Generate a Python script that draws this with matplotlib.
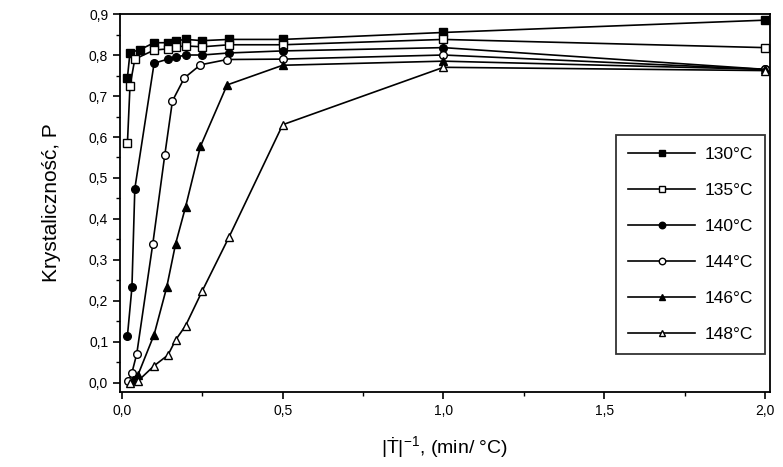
import matplotlib
matplotlib.use("Agg")
import matplotlib.pyplot as plt
from matplotlib.ticker import MultipleLocator, FuncFormatter

plt.rcParams['font.family'] = ['Liberation Sans', 'DejaVu Sans']
plt.rcParams['mathtext.default'] = 'regular'

labels = ["130°C", "135°C", "140°C", "144°C", "146°C", "148°C"]

x130 = [0.017, 0.025, 0.056, 0.1, 0.143, 0.167, 0.2, 0.25, 0.333, 0.5, 1.0, 2.0]
y130 = [0.745, 0.806, 0.813, 0.83, 0.83, 0.835, 0.838, 0.835, 0.838, 0.838, 0.855, 0.885]

x135 = [0.017, 0.025, 0.04, 0.1, 0.143, 0.167, 0.2, 0.25, 0.333, 0.5, 1.0, 2.0]
y135 = [0.585, 0.725, 0.79, 0.812, 0.815, 0.82, 0.822, 0.82, 0.825, 0.825, 0.838, 0.818]

x140 = [0.017, 0.031, 0.04, 0.1, 0.143, 0.167, 0.2, 0.25, 0.333, 0.5, 1.0, 2.0]
y140 = [0.115, 0.233, 0.474, 0.78, 0.79, 0.795, 0.80, 0.80, 0.805, 0.81, 0.818, 0.765]

x144 = [0.02, 0.031, 0.046, 0.096, 0.133, 0.157, 0.194, 0.244, 0.327, 0.5, 1.0, 2.0]
y144 = [0.005, 0.025, 0.071, 0.34, 0.555, 0.688, 0.744, 0.776, 0.789, 0.79, 0.80, 0.765]

x146 = [0.033, 0.05, 0.1, 0.139, 0.167, 0.198, 0.244, 0.327, 0.5, 1.0, 2.0]
y146 = [0.008, 0.02, 0.118, 0.233, 0.34, 0.43, 0.577, 0.727, 0.775, 0.785, 0.765]

x148 = [0.025, 0.05, 0.1, 0.143, 0.167, 0.198, 0.25, 0.333, 0.5, 1.0, 2.0]
y148 = [0.0, 0.005, 0.042, 0.068, 0.105, 0.14, 0.225, 0.356, 0.63, 0.77, 0.762]

series = [(x130, y130, 's', 'black'), (x135, y135, 's', 'white'),
          (x140, y140, 'o', 'black'), (x144, y144, 'o', 'white'),
          (x146, y146, '^', 'black'), (x148, y148, '^', 'white')]

fig = plt.figure(figsize=(7.83, 4.67), dpi=100)
ax = fig.add_axes([0.1533, 0.1606, 0.8301, 0.8094])

for (xs, ys, m, fc), lab in zip(series, labels):
    ax.plot(xs, ys, color='black', lw=1.2, marker=m, markersize=5.5,
            markerfacecolor=fc, markeredgecolor='black', markeredgewidth=1.0,
            label=lab, clip_on=False, zorder=3)

ax.set_xlim(-0.006, 2.0155)
ax.set_ylim(-0.022, 0.9)
ax.xaxis.set_major_locator(MultipleLocator(0.5))
ax.xaxis.set_minor_locator(MultipleLocator(0.25))
ax.yaxis.set_major_locator(MultipleLocator(0.1))
ax.yaxis.set_minor_locator(MultipleLocator(0.05))
fmt = FuncFormatter(lambda v, p: f"{v:.1f}".replace('.', ','))
ax.xaxis.set_major_formatter(fmt)
ax.yaxis.set_major_formatter(fmt)
ax.tick_params(which='major', direction='out', length=5, width=1.2, labelsize=10)
ax.tick_params(which='minor', direction='out', length=3, width=1.0)
for s in ax.spines.values():
    s.set_linewidth(1.3)

ax.set_ylabel("Krystaliczność, P", fontsize=15, labelpad=20)
ax.set_xlabel("|Ṫ|$^{-1}$, (min/ °C)", fontsize=14, labelpad=12)

leg = ax.legend(loc='upper right', bbox_to_anchor=(0.992, 0.68), fontsize=12.5,
                frameon=True, fancybox=False, edgecolor='black',
                handlelength=3.9, labelspacing=1.2, borderpad=0.7,
                handletextpad=0.5, borderaxespad=0, markerscale=0.85)
leg.get_frame().set_linewidth(1.3)

fig.savefig("out.png", dpi=100)
